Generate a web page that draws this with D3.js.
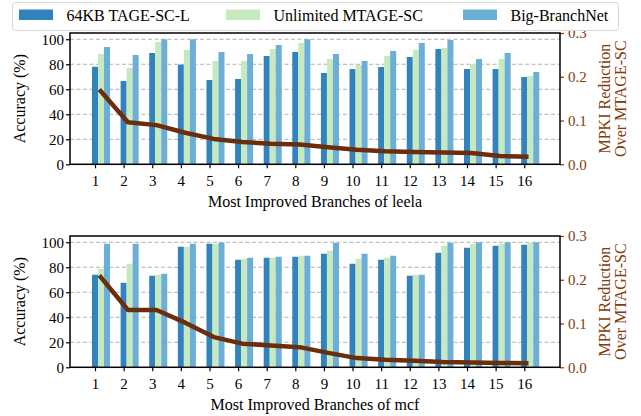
<!DOCTYPE html>
<html><head><meta charset="utf-8">
<script src="https://cdn.jsdelivr.net/npm/d3@7"></script>
<style>
body{margin:0;background:#fff;}
svg{font-family:"Liberation Serif","Times New Roman",serif;}
</style></head>
<body><svg id="c" width="641" height="416"></svg>
<script>
const categories = [1,2,3,4,5,6,7,8,9,10,11,12,13,14,15,16];
const seriesNames = ["64KB TAGE-SC-L","Unlimited MTAGE-SC","Big-BranchNet"];
const leelaTage   = [78,66.6,89,79.7,67.4,68.2,86.6,89.8,73,76.2,77.8,85.8,92.2,76.2,76.2,69.8];
const leelaMtage  = [88.2,77,97.8,91.4,82.6,82.6,92.2,97,84.2,79.4,86.6,91.4,93,80.2,84.2,70.6];
const leelaBig    = [93.8,87.4,100,100,89.8,88.2,95.4,100,88.2,82.6,90.6,97,99.4,84.2,89,73.8];
const leelaMpki   = [0.171,0.096,0.0895,0.072,0.058,0.051,0.047,0.045,0.039,0.0335,0.030,0.028,0.027,0.026,0.019,0.0175];
const mcfTage     = [74,67.6,73.2,96.4,98.8,86,87.6,88.4,90.8,82.8,86,73.2,91.6,95.6,97.2,98];
const mcfMtage    = [78.8,82.8,74,96.4,98.8,86.8,87.6,89.2,93.2,86.8,87.6,74,97.2,98.8,98.8,99.6];
const mcfBig      = [98.8,98.8,74.8,98.8,99.8,87.6,88.4,89.2,99.6,90.8,89.2,74,99.6,100,100,100];
const mcfMpki     = [0.21,0.131,0.131,0.102,0.069,0.054,0.050,0.046,0.033,0.021,0.017,0.015,0.012,0.011,0.010,0.009];
const accTicks = [0,20,40,60,80,100];
const mpkiTicks = [0.0,0.1,0.2,0.3];
const colors = ["#3182bd","#c7e9c0","#6baed6"];
const lineColor = "#6b2d0b";
const brownText = "#7f3b08";

const svg = d3.select("#c");
const L = 70, R = 560;
const x = d3.scaleLinear().domain([0.126, 17.25]).range([L, R]);
const bw = 0.21;

function panel(top, bottom, vals, mpki, title) {
  const g = svg.append("g");
  const y = d3.scaleLinear().domain([0,105]).range([bottom, top]);
  const y2 = d3.scaleLinear().domain([0,0.3]).range([bottom, top]);
  // grid
  g.selectAll(".grid").data(accTicks).enter().append("line")
    .attr("x1", L).attr("x2", R).attr("y1", d=>y(d)).attr("y2", d=>y(d))
    .attr("stroke","#b0b0b0").attr("stroke-width",1).attr("stroke-dasharray","4,2.5");
  // bars
  vals.forEach((arr, si) => {
    g.selectAll(".b"+si).data(arr).enter().append("rect")
      .attr("x", (d,i)=> x(categories[i] + si*bw - bw/2))
      .attr("width", x(bw) - x(0))
      .attr("y", d=>y(d)).attr("height", d=>y(0)-y(d))
      .attr("fill", colors[si]);
  });
  // line
  const line = d3.line().x((d,i)=>x(categories[i]+0.15)).y(d=>y2(d));
  g.append("path").datum(mpki).attr("d", line).attr("fill","none")
    .attr("stroke", lineColor).attr("stroke-width",4.5).attr("stroke-linejoin","round");
  // axes
  const ax = g.append("g").attr("transform",`translate(0,${bottom})`)
    .call(d3.axisBottom(x).tickValues(categories).tickSize(4).tickFormat(d3.format("d")));
  const ay = g.append("g").attr("transform",`translate(${L},0)`)
    .call(d3.axisLeft(y).tickValues(accTicks).tickSize(4));
  const ay2 = g.append("g").attr("transform",`translate(${R},0)`)
    .call(d3.axisRight(y2).tickValues(mpkiTicks).tickSize(4).tickFormat(d3.format(".1f")));
  [ax, ay, ay2].forEach(a => {
    a.select(".domain").remove();
    a.selectAll("text").attr("font-size", 15).attr("font-family","Liberation Serif, Times New Roman, serif");
  });
  ax.selectAll("line").attr("stroke","#000").attr("stroke-width",1.2);
  ax.selectAll("text").attr("fill","#000").attr("dy","0.95em");
  ay.selectAll("line").attr("stroke","#000").attr("stroke-width",1.2);
  ay.selectAll("text").attr("fill","#000").attr("x",-6);
  ay2.selectAll("line").attr("stroke",brownText).attr("stroke-width",1.2);
  ay2.selectAll("text").attr("fill",brownText).attr("x",8);
  // frame
  g.append("rect").attr("x",L).attr("y",top).attr("width",R-L).attr("height",bottom-top)
    .attr("fill","none").attr("stroke","#000").attr("stroke-width",1.5);
  // titles
  g.append("text").attr("x",(L+R)/2).attr("y",bottom+43).attr("text-anchor","middle")
    .attr("font-size",16).text(title);
  const cy = (top+bottom)/2;
  g.append("text").attr("transform",`translate(25,${cy}) rotate(-90)`).attr("text-anchor","middle")
    .attr("font-size",16).text("Accuracy (%)");
  const rl = g.append("text").attr("transform",`translate(610,${cy}) rotate(-90)`).attr("text-anchor","middle")
    .attr("font-size",16).attr("fill",brownText);
  rl.append("tspan").attr("x",0).attr("dy",0).text("MPKI Reduction");
  rl.append("tspan").attr("x",0).attr("dy","1.0em").text("Over MTAGE-SC");
}

panel(33, 164.3, [leelaTage, leelaMtage, leelaBig], leelaMpki, "Most Improved Branches of leela");
panel(236, 367.3, [mcfTage, mcfMtage, mcfBig], mcfMpki, "Most Improved Branches of mcf");

// legend
const lg = svg.append("g");
lg.append("rect").attr("x",12.5).attr("y",2.5).attr("width",606).attr("height",28).attr("rx",3)
  .attr("fill","#fff").attr("stroke","#d6d6d6").attr("stroke-width",1);
const patchX = [19, 226, 463];
seriesNames.forEach((n,i)=>{
  lg.append("rect").attr("x",patchX[i]).attr("y",9.5).attr("width",34).attr("height",10.5).attr("fill",colors[i]);
  lg.append("text").attr("x",patchX[i]+47.5).attr("y",20.5).attr("font-size",16).text(n);
});
</script></body></html>
